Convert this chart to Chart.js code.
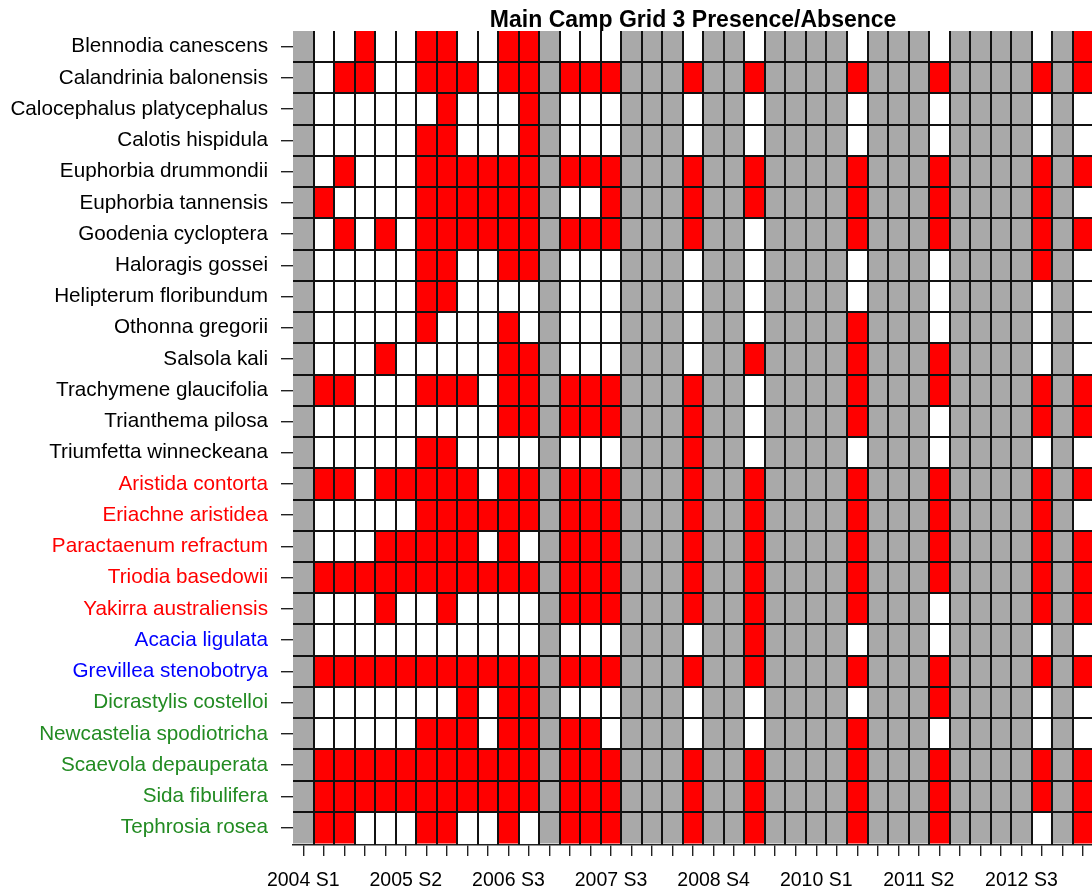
<!DOCTYPE html>
<html>
<head>
<meta charset="utf-8">
<title>Main Camp Grid 3 Presence/Absence</title>
<script src="https://cdn.jsdelivr.net/npm/chart.js@4.4.1/dist/chart.umd.min.js"></script>
<style>
  html, body { margin: 0; padding: 0; background: #ffffff; overflow: hidden; }
  #wrap { position: relative; width: 1096px; height: 890px; }
</style>
</head>
<body>
<div id="wrap"><canvas id="grid"></canvas></div>
<script>
// Survey sessions along the x axis; every fifth session carries a label.
const sessionLabels = [
  '2004 S1', '', '', '', '',
  '2005 S2', '', '', '', '',
  '2006 S3', '', '', '', '',
  '2007 S3', '', '', '', '',
  '2008 S4', '', '', '', '',
  '2010 S1', '', '', '', '',
  '2011 S2', '', '', '', '',
  '2012 S3', '', '', ''
];

// Sessions in which the grid was surveyed; all other sessions are greyed out.
const surveyedSessions = [1, 2, 3, 4, 5, 6, 7, 8, 9, 10, 11, 13, 14, 15, 19, 22, 27, 31, 36, 38];

const species = [
  'Blennodia canescens', 'Calandrinia balonensis', 'Calocephalus platycephalus',
  'Calotis hispidula', 'Euphorbia drummondii', 'Euphorbia tannensis',
  'Goodenia cycloptera', 'Haloragis gossei', 'Helipterum floribundum',
  'Othonna gregorii', 'Salsola kali', 'Trachymene glaucifolia',
  'Trianthema pilosa', 'Triumfetta winneckeana',
  'Aristida contorta', 'Eriachne aristidea', 'Paractaenum refractum',
  'Triodia basedowii', 'Yakirra australiensis',
  'Acacia ligulata', 'Grevillea stenobotrya',
  'Dicrastylis costelloi', 'Newcastelia spodiotricha', 'Scaevola depauperata',
  'Sida fibulifera', 'Tephrosia rosea'
];

// Life form of each species, used to colour its label.
const speciesGroup = [
  'forb', 'forb', 'forb', 'forb', 'forb', 'forb', 'forb',
  'forb', 'forb', 'forb', 'forb', 'forb', 'forb', 'forb',
  'grass', 'grass', 'grass', 'grass', 'grass',
  'tree', 'tree',
  'shrub', 'shrub', 'shrub', 'shrub', 'shrub'
];

// Presence (1) / absence (0), one value per surveyed session.
const pBlennodia    = [0,0,1,0,0,1,1,0,0,1,1, 0,0,0, 0,0,0,0,0,1];
const pCalandrinia  = [0,1,1,0,0,1,1,1,0,1,1, 1,1,1, 1,1,1,1,1,1];
const pCalocephalus = [0,0,0,0,0,0,1,0,0,0,1, 0,0,0, 0,0,0,0,0,0];
const pCalotis      = [0,0,0,0,0,1,1,0,0,0,1, 0,0,0, 0,0,0,0,0,0];
const pEuphDrumm    = [0,1,0,0,0,1,1,1,1,1,1, 1,1,1, 1,1,1,1,1,1];
const pEuphTann     = [1,0,0,0,0,1,1,1,1,1,1, 0,0,1, 1,1,1,1,1,0];
const pGoodenia     = [0,1,0,1,0,1,1,1,1,1,1, 1,1,1, 1,0,1,1,1,1];
const pHaloragis    = [0,0,0,0,0,1,1,0,0,1,1, 0,0,0, 0,0,0,0,1,0];
const pHelipterum   = [0,0,0,0,0,1,1,0,0,0,0, 0,0,0, 0,0,0,0,0,0];
const pOthonna      = [0,0,0,0,0,1,0,0,0,1,0, 0,0,0, 0,0,1,0,0,0];
const pSalsola      = [0,0,0,1,0,0,0,0,0,1,1, 0,0,0, 0,1,1,1,0,0];
const pTrachymene   = [1,1,0,0,0,1,1,1,0,1,1, 1,1,1, 1,0,1,1,1,1];
const pTrianthema   = [0,0,0,0,0,0,0,0,0,1,1, 1,1,1, 1,0,1,0,1,1];
const pTriumfetta   = [0,0,0,0,0,1,1,0,0,0,0, 0,0,0, 1,0,0,0,0,0];
const pAristida     = [1,1,0,1,1,1,1,1,0,1,1, 1,1,1, 1,1,1,1,1,1];
const pEriachne     = [0,0,0,0,0,1,1,1,1,1,1, 1,1,1, 1,1,1,1,1,0];
const pParactaenum  = [0,0,0,1,1,1,1,1,0,1,0, 1,1,1, 1,1,1,1,1,1];
const pTriodia      = [1,1,1,1,1,1,1,1,1,1,1, 1,1,1, 1,1,1,1,1,1];
const pYakirra      = [0,0,0,1,0,0,1,0,0,0,0, 1,1,1, 1,1,1,0,1,1];
const pAcacia       = [0,0,0,0,0,0,0,0,0,0,0, 0,0,0, 0,1,0,0,0,0];
const pGrevillea    = [1,1,1,1,1,1,1,1,1,1,1, 1,1,1, 1,1,1,1,1,1];
const pDicrastylis  = [0,0,0,0,0,0,0,1,0,1,1, 0,0,0, 0,0,0,1,0,0];
const pNewcastelia  = [0,0,0,0,0,1,1,1,0,1,1, 1,1,0, 0,0,1,0,0,0];
const pScaevola     = [1,1,1,1,1,1,1,1,1,1,1, 1,1,1, 1,1,1,1,1,1];
const pSida         = [1,1,1,1,1,1,1,1,1,1,1, 1,1,1, 1,1,1,1,1,1];
const pTephrosia    = [1,1,0,0,0,1,1,0,0,1,0, 1,1,1, 1,1,1,1,0,1];

const presence = [
  pBlennodia, pCalandrinia, pCalocephalus, pCalotis, pEuphDrumm, pEuphTann,
  pGoodenia, pHaloragis, pHelipterum, pOthonna, pSalsola, pTrachymene,
  pTrianthema, pTriumfetta, pAristida, pEriachne, pParactaenum, pTriodia,
  pYakirra, pAcacia, pGrevillea, pDicrastylis, pNewcastelia, pScaevola,
  pSida, pTephrosia
];

// ---- styling ----
const FONT = "'Liberation Sans', Arial, Helvetica, sans-serif";
const PRESENT = '#ff0000';
const ABSENT = '#ffffff';
const NOT_SURVEYED = '#a9a9a9';
const CELL_LINE = '#111111';
const CELL_LINE_WIDTH = 2;
const NONE = 'rgba(0,0,0,0)';
const Y_MAX = 26.06;   // a sliver below the last row separates it from the x axis
const groupColour = { forb: '#000000', grass: '#ff0000', tree: '#0000ff', shrub: '#228b22' };

// null = session not surveyed, otherwise 0/1
function cellState(row, session) {
  const k = surveyedSessions.indexOf(session);
  return k < 0 ? null : presence[row][k];
}

// One dataset per species: each cell is a floating bar spanning that species' row.
const datasets = species.map((name, row) => ({
  label: name,
  xAxisID: 'x',
  yAxisID: 'y',
  data: sessionLabels.map(() => [row, row + 1]),
  backgroundColor: ctx => {
    const s = cellState(row, ctx.dataIndex);
    return s === null ? NOT_SURVEYED : (s ? PRESENT : ABSENT);
  },
  borderWidth: 0,
  barPercentage: 1,
  categoryPercentage: 1,
  grouped: false
}));

new Chart(document.getElementById('grid'), {
  type: 'bar',
  data: { labels: sessionLabels, datasets },
  options: {
    responsive: true,
    maintainAspectRatio: false,
    devicePixelRatio: 1,
    animation: false,
    layout: { padding: 0 },
    plugins: {
      legend: { display: false },
      tooltip: { enabled: false },
      title: {
        display: true,
        text: 'Main Camp Grid 3 Presence/Absence',
        fullSize: false,
        color: '#000000',
        font: { family: FONT, size: 23, weight: 'bold', lineHeight: 1 },
        padding: { top: 9, bottom: -1 }
      }
    },
    scales: {
      // session axis: tick marks under each column centre
      x: {
        type: 'category',
        position: 'bottom',
        offset: true,
        grid: {
          display: true,
          offset: false,
          drawOnChartArea: false,
          drawTicks: true,
          tickLength: 11,
          color: '#222222',
          lineWidth: 1.4
        },
        border: { display: true, color: '#222222', width: 1.4 },
        ticks: {
          autoSkip: false,
          maxRotation: 0,
          minRotation: 0,
          padding: 13,
          color: '#000000',
          font: { family: FONT, size: 19.5 }
        },
        afterFit: scale => { scale.height = 45; }
      },
      // species axis: one labelled tick per row
      y: {
        type: 'linear',
        position: 'left',
        reverse: true,
        min: 0,
        max: Y_MAX,
        bounds: 'data',
        afterBuildTicks: scale => {
          scale.ticks = species.map((_, i) => ({ value: i + 0.5 }));
        },
        grid: {
          display: true,
          drawOnChartArea: false,
          drawTicks: true,
          tickLength: 12,
          color: '#222222',
          lineWidth: 1.4
        },
        border: { display: false },
        ticks: {
          autoSkip: false,
          padding: 13,
          font: { family: FONT, size: 20.7 },
          color: ctx => groupColour[speciesGroup[ctx.index]] || '#000000',
          callback: (value, index) => species[index]
        },
        afterFit: scale => { scale.width = 293; }
      },
      // column dividers, drawn over the cells
      xGrid: {
        type: 'category',
        position: 'top',
        display: true,
        offset: true,
        grid: {
          display: true,
          offset: true,
          z: 1,
          drawOnChartArea: true,
          drawTicks: false,
          lineWidth: CELL_LINE_WIDTH,
          color: ctx => (ctx.index === 0 ? NONE : CELL_LINE)
        },
        border: { display: false },
        ticks: { display: false },
        afterFit: scale => { scale.height = 0; }
      },
      // row dividers, drawn over the cells
      yGrid: {
        type: 'linear',
        position: 'right',
        display: true,
        reverse: true,
        min: 0,
        max: Y_MAX,
        bounds: 'data',
        afterBuildTicks: scale => {
          scale.ticks = species.slice(1).map((_, i) => ({ value: i + 1 }));
        },
        grid: {
          display: true,
          z: 1,
          drawOnChartArea: true,
          drawTicks: false,
          lineWidth: CELL_LINE_WIDTH,
          color: CELL_LINE
        },
        border: { display: false },
        ticks: { display: false },
        afterFit: scale => { scale.width = 0; }
      }
    }
  }
});
</script>
</body>
</html>
